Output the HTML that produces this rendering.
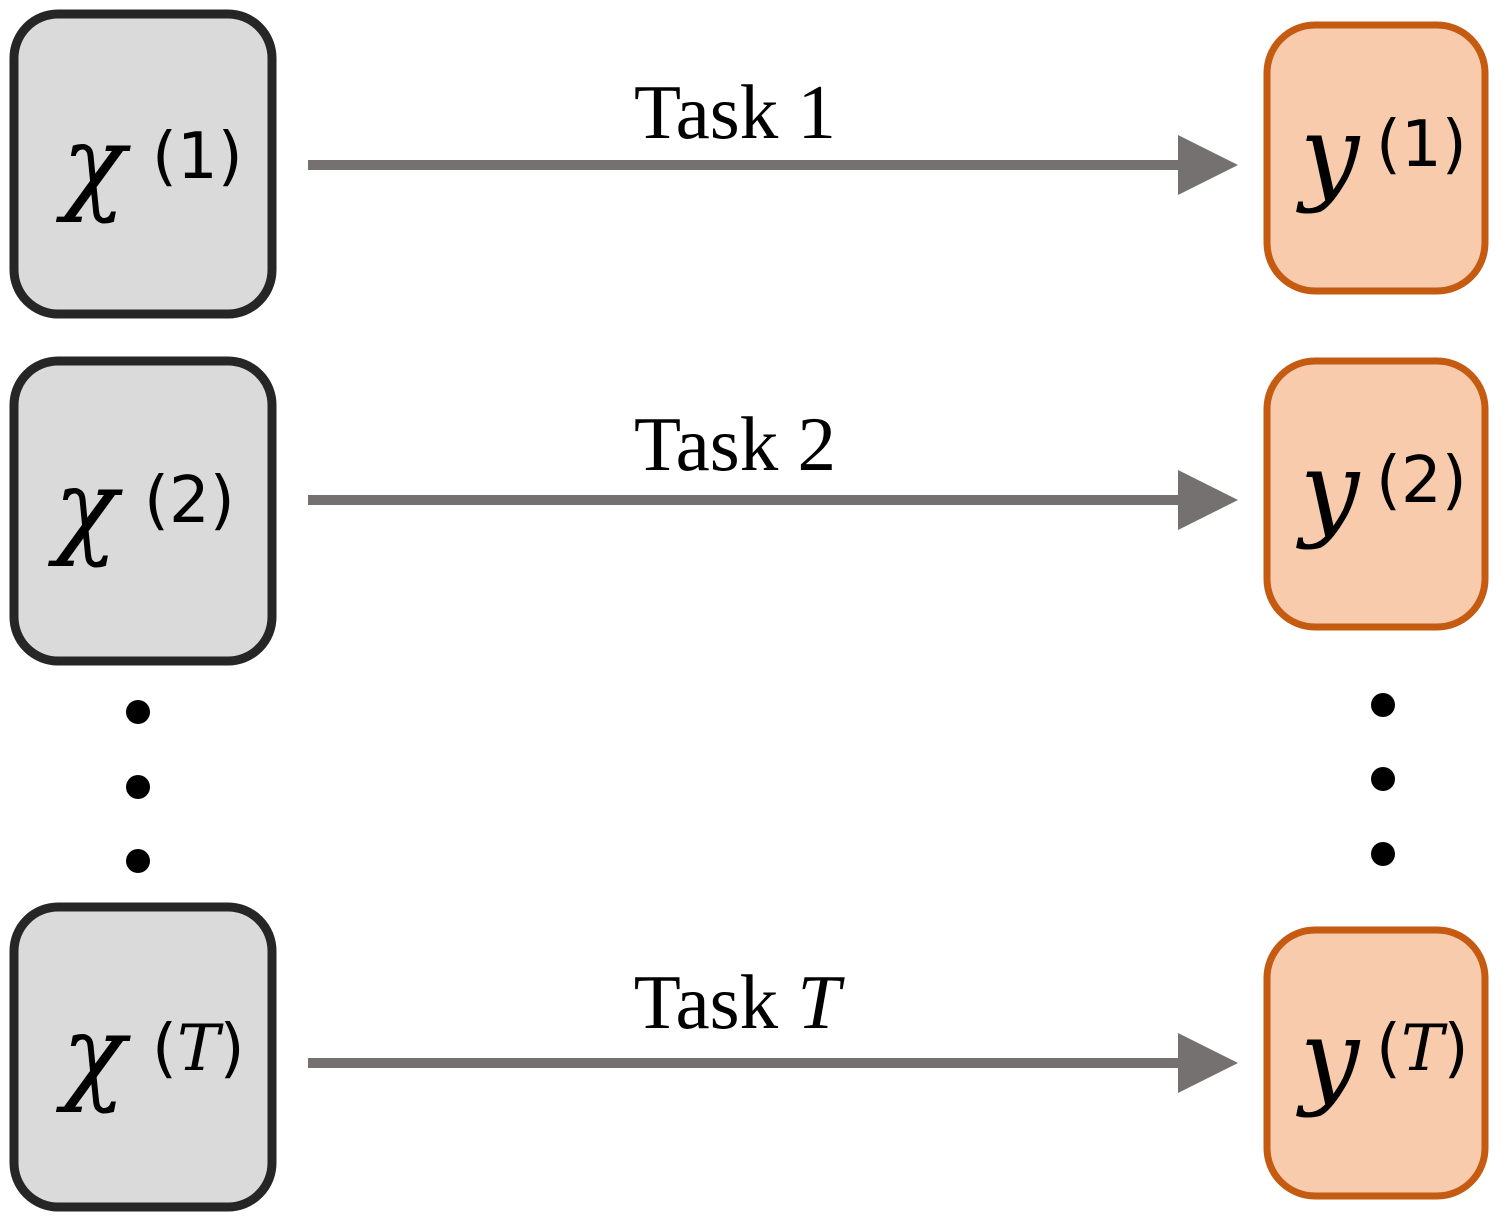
<!DOCTYPE html>
<html><head><meta charset="utf-8"><style>
html,body{margin:0;padding:0;background:#fff}
svg{display:block}
.lbl{font-family:"Liberation Serif",serif;font-size:77px;fill:#000}
.math{font-family:"DejaVu Serif","Liberation Serif",serif;font-style:italic;fill:#000}
.sup{font-family:"DejaVu Sans","Liberation Sans",sans-serif;font-style:normal;fill:#000;font-size:64px}
.it{font-style:italic;font-family:"DejaVu Serif",serif}
</style></head><body>
<svg width="1502" height="1230" viewBox="0 0 1502 1230">
<g>
<rect x="14" y="14" width="258" height="300" rx="44" fill="#dadada" stroke="#262626" stroke-width="9"/>
<text class="math" x="62" y="200" font-size="105">χ</text>
<text class="sup" x="152" y="178">(1)</text>
</g>
<g>
<rect x="14" y="361" width="258" height="300" rx="44" fill="#dadada" stroke="#262626" stroke-width="9"/>
<text class="math" x="54" y="544" font-size="105">χ</text>
<text class="sup" x="144" y="522">(2)</text>
</g>
<g>
<rect x="14" y="907" width="258" height="300" rx="44" fill="#dadada" stroke="#262626" stroke-width="9"/>
<text class="math" x="62" y="1090" font-size="105">χ</text>
<text class="sup" x="152" y="1070">(<tspan class="it">T</tspan>)</text>
</g>
<g>
<rect x="1267" y="25" width="218" height="266" rx="48" fill="#f8cbad" stroke="#c55a11" stroke-width="7"/>
<text class="math" x="1300" y="190" font-size="105">y</text>
<text class="sup" x="1376" y="166">(1)</text>
</g>
<g>
<rect x="1267" y="361" width="218" height="266" rx="48" fill="#f8cbad" stroke="#c55a11" stroke-width="7"/>
<text class="math" x="1300" y="526" font-size="105">y</text>
<text class="sup" x="1376" y="502">(2)</text>
</g>
<g>
<rect x="1267" y="930" width="218" height="266" rx="48" fill="#f8cbad" stroke="#c55a11" stroke-width="7"/>
<text class="math" x="1300" y="1094" font-size="105">y</text>
<text class="sup" x="1376" y="1070">(<tspan class="it">T</tspan>)</text>
</g>
<g>
<rect x="308" y="160" width="875" height="10" fill="#767171"/>
<polygon points="1178,135 1238,165 1178,195" fill="#767171"/>
<text class="lbl" x="735" y="138" text-anchor="middle">Task 1</text>
</g>
<g>
<rect x="308" y="495" width="875" height="10" fill="#767171"/>
<polygon points="1178,470 1238,500 1178,530" fill="#767171"/>
<text class="lbl" x="735" y="470" text-anchor="middle">Task 2</text>
</g>
<g>
<rect x="308" y="1058" width="875" height="10" fill="#767171"/>
<polygon points="1178,1033 1238,1063 1178,1093" fill="#767171"/>
<text class="lbl" x="737" y="1028" text-anchor="middle">Task <tspan font-style="italic">T</tspan></text>
</g>
<g fill="#000">
<circle cx="138" cy="712" r="12"/><circle cx="138" cy="787" r="12"/><circle cx="138" cy="861" r="12"/>
</g>
<g fill="#000">
<circle cx="1383" cy="705" r="12"/><circle cx="1383" cy="779" r="12"/><circle cx="1383" cy="854" r="12"/>
</g>
</svg>
</body></html>
